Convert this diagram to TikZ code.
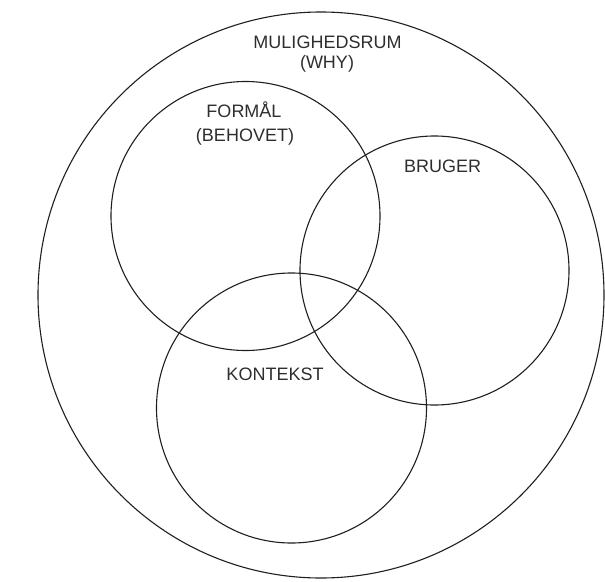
\documentclass[tikz,border=0pt]{standalone}
\usepackage{fontspec}
\setmainfont{Liberation Sans}
\begin{document}
\begin{tikzpicture}[x=1pt,y=-1pt,
  ring/.style={draw=black!88, line width=1.1pt, circle, inner sep=0pt},
  lbl/.style={text=black!82, font=\fontsize{18}{22}\selectfont, align=center, inner sep=0pt}]
\useasboundingbox (0,0) rectangle (605,581);
\node[ring, minimum size=566pt] (whole) at (321,295) {};
\node[ring, minimum size=269pt] (formaal) at (245.5,216) {};
\node[ring, minimum size=269pt] (bruger) at (434.5,270.5) {};
\node[ring, minimum size=270pt] (kontekst) at (291.5,408) {};
\node[lbl, anchor=base] (t1) at (327.5,48.2) {MULIGHEDSRUM};
\node[lbl, anchor=base] (t2) at (327,68.5) {(WHY)};
\node[lbl, anchor=base] (t3) at (244,117.3) {FORMÅL};
\node[lbl, anchor=base] (t4) at (245,141) {(BEHOVET)};
\node[lbl, anchor=base] (t5) at (442.6,172.5) {BRUGER};
\node[lbl, anchor=base] (t6) at (275,380.5) {KONTEKST};
\end{tikzpicture}
\end{document}
